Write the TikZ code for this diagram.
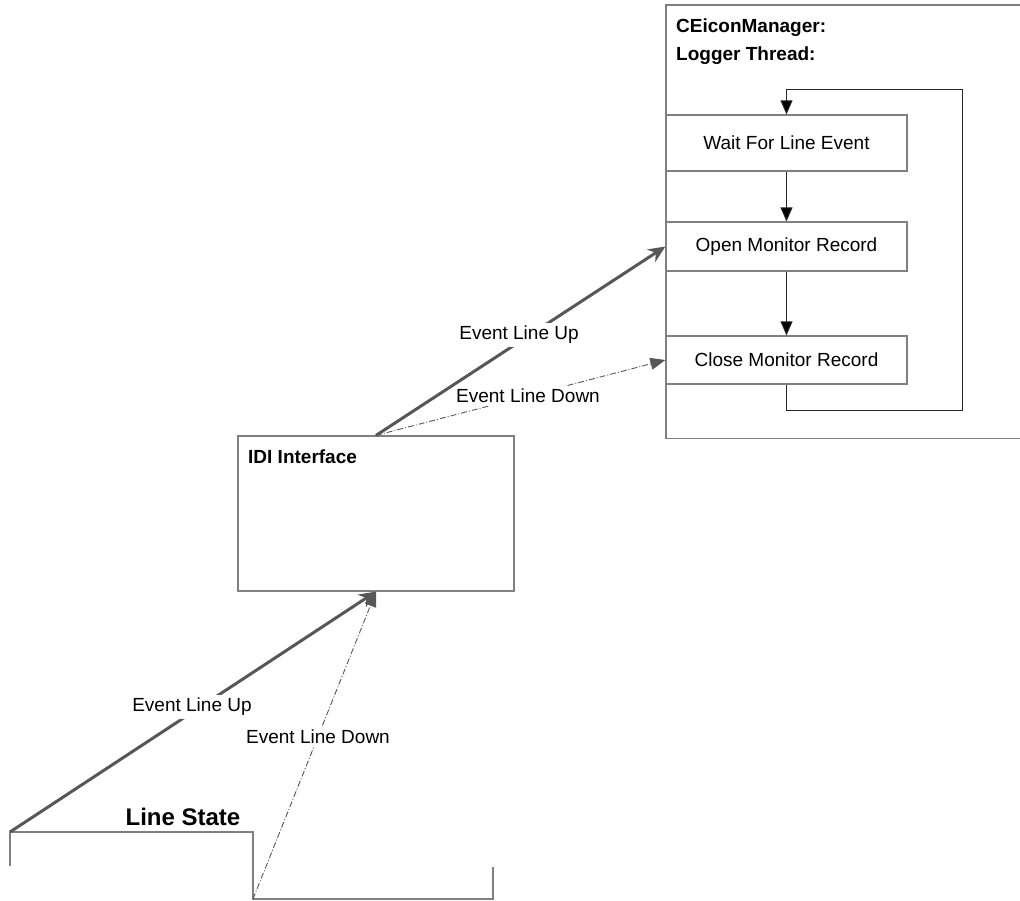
\documentclass[tikz,border=0pt]{standalone}
\usepackage{fontspec}
\setmainfont{Liberation Sans}
\usetikzlibrary{arrows.meta}
\definecolor{frame}{HTML}{808080}
\definecolor{evt}{HTML}{575757}
\begin{document}
\begin{tikzpicture}[x=1pt,y=-1pt,
  txt/.style={font=\fontsize{19}{23}\selectfont, inner sep=0pt},
  evtlabel/.style={font=\fontsize{19}{23}\selectfont, fill=white, inner xsep=2pt, inner ysep=3pt},
  bold/.style={font=\fontsize{19}{23}\selectfont\bfseries, inner sep=0pt},
  stepbox/.style={draw=frame, line width=1.2pt, fill=white, minimum width=241pt,
    font=\fontsize{19}{23}\selectfont, inner sep=0pt},
  flow/.style={draw=black!85, line width=1pt, -{Triangle[length=14pt,width=12pt,fill=black]}},
  evtup/.style={draw=evt, line width=3pt, -{Stealth[length=17pt,width=15pt,fill=evt]}},
  evtdown/.style={draw=evt, line width=0.9pt, dash pattern=on 6pt off 2pt on 1pt off 2pt,
    -{Triangle[length=15pt,width=12pt,fill=evt]}},
  wave/.style={draw=frame, line width=1.2pt}
]
\useasboundingbox (0,0) rectangle (1020,901);

% Logger thread frame (open to the right)
\coordinate (mgrTR) at (1020,5);
\coordinate (mgrTL) at (666,5);
\coordinate (mgrBL) at (666,438.5);
\coordinate (mgrBR) at (1020,438.5);
\draw[wave] (mgrTR) -- (mgrTL) -- (mgrBL) -- (mgrBR);
\node[bold, anchor=base west] (mgrA) at (676,33) {CEiconManager:};
\node[bold, anchor=base west] (mgrB) at (676,61) {Logger Thread:};

% Steps of the logger loop
\node[stepbox, minimum height=56pt] (wait)  at (786.5,143)   {Wait For Line Event};
\node[stepbox, minimum height=49pt] (open)  at (786.5,246.5) {Open Monitor Record};
\node[stepbox, minimum height=48pt] (close) at (786.5,360)   {Close Monitor Record};

\draw[flow] (wait.south) -- (open.north);
\draw[flow] (open.south) -- (close.north);
\coordinate (loopBR) at (962,410);
\coordinate (loopTR) at (962,90);
\draw[flow] (close.south) |- (loopBR) -- (loopTR) -| (wait.north);

% IDI interface
\node[draw=frame, line width=1.2pt, minimum width=276pt, minimum height=155pt, inner sep=0pt]
  (idi) at (376,513.5) {};
\node[bold, anchor=west] (idiLabel) at (248,457) {IDI Interface};

% Line state waveform
\coordinate (ls0) at (10,866);
\coordinate (ls1) at (10,832);
\coordinate (ls2) at (253,832);
\coordinate (ls3) at (253,899);
\coordinate (ls4) at (493,899);
\coordinate (ls5) at (493,867);
\draw[wave] (ls0) -- (ls1) -- (ls2) -- (ls3) -- (ls4) -- (ls5);
\node[font=\fontsize{24}{28}\selectfont\bfseries, inner sep=0pt] (lsLabel) at (183,817) {Line State};

% Events from the line to the IDI interface
\draw[evtup] (ls1) -- (idi.south);
\draw[evtdown] (ls3) -- (idi.south);
\node[evtlabel] (lowUp) at (192,707) {Event Line Up};
\node[evtlabel] (lowDown) at (318,737) {Event Line Down};

% Events from the IDI interface to the logger thread
\draw[evtup] (idi.north) -- (open.west);
\draw[evtdown] (idi.north) -- (close.west);
\node[evtlabel] (upUp) at (519,335) {Event Line Up};
\node[evtlabel] (upDown) at (528,396) {Event Line Down};
\end{tikzpicture}
\end{document}
